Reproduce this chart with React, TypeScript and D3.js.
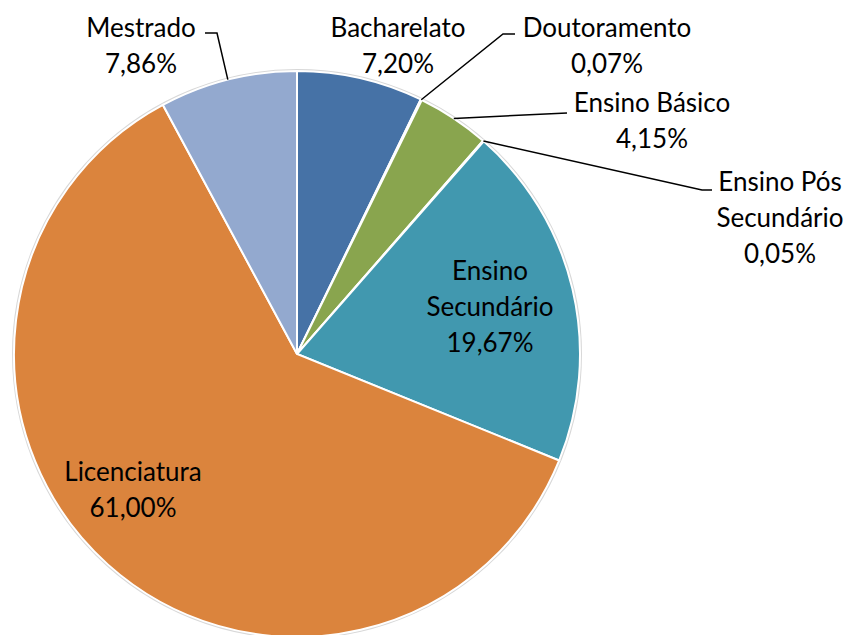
import React from "react";
import * as d3 from "d3";

const categories = [
  "Bacharelato",
  "Doutoramento",
  "Ensino Básico",
  "Ensino Pós Secundário",
  "Ensino Secundário",
  "Licenciatura",
  "Mestrado",
];
const values = [7.2, 0.07, 4.15, 0.05, 19.67, 61.0, 7.86];
const valueLabels = ["7,20%", "0,07%", "4,15%", "0,05%", "19,67%", "61,00%", "7,86%"];
const colors = ["#4672A6", "#AA4643", "#89A54E", "#71588F", "#4198AF", "#DB843D", "#93A9CF"];

// label layout: lines of name, anchor center x, first baseline y, leader polyline end points
const labelLayout: { lines: string[]; x: number; y: number; leader?: [number, number][] }[] = [
  { lines: ["Bacharelato"], x: 398, y: 37 },
  { lines: ["Doutoramento"], x: 607, y: 37, leader: [[503, 34], [515, 34]] },
  { lines: ["Ensino Básico"], x: 652, y: 112, leader: [[567, 113]] },
  { lines: ["Ensino Pós", "Secundário"], x: 780, y: 191, leader: [[702, 190], [712, 190]] },
  { lines: ["Ensino", "Secundário"], x: 490, y: 280 },
  { lines: ["Licenciatura"], x: 133, y: 481 },
  { lines: ["Mestrado"], x: 141, y: 37, leader: [[217, 33], [205, 33]] },
];

const W = 849;
const H = 635;
const cx = 297;
const cy = 354;
const R = 283;
const LINE = 36;

export default function App() {
  const pie = d3.pie<number>().sort(null).value((d) => d)(values);
  const arc = d3.arc<d3.PieArcDatum<number>>().innerRadius(0).outerRadius(R);
  const font = "Lato, 'Open Sans', sans-serif";
  return (
    <div style={{ position: "absolute", left: 0, top: 0 }}>
      <svg width={W} height={H} style={{ display: "block", background: "#fff" }}>
        <g transform={`translate(${cx},${cy})`}>
          <circle r={R + 1} fill="none" stroke="#d8d8d8" strokeWidth={2} />
          {pie.map((p, i) => (
            <path key={i} d={arc(p) || ""} fill={colors[i]} stroke="#fff" strokeWidth={2} />
          ))}
        </g>
        {pie.map((p, i) => {
          const lay = labelLayout[i];
          if (!lay.leader) return null;
          const mid = (p.startAngle + p.endAngle) / 2;
          const sx = cx + R * Math.sin(mid);
          const sy = cy - R * Math.cos(mid);
          const pts = [[sx, sy], ...lay.leader] as [number, number][];
          return (
            <polyline
              key={"l" + i}
              points={pts.map((q) => q.join(",")).join(" ")}
              fill="none"
              stroke="#000"
              strokeWidth={1.5}
            />
          );
        })}
        {labelLayout.map((lay, i) => {
          const lines = [...lay.lines, valueLabels[i]];
          return (
            <text
              key={"t" + i}
              textAnchor="middle"
              fontFamily={font}
              fontSize={26}
              fill="#000"
            >
              {lines.map((s, j) => (
                <tspan key={j} x={lay.x} y={lay.y + j * LINE}>
                  {s}
                </tspan>
              ))}
            </text>
          );
        })}
      </svg>
    </div>
  );
}
